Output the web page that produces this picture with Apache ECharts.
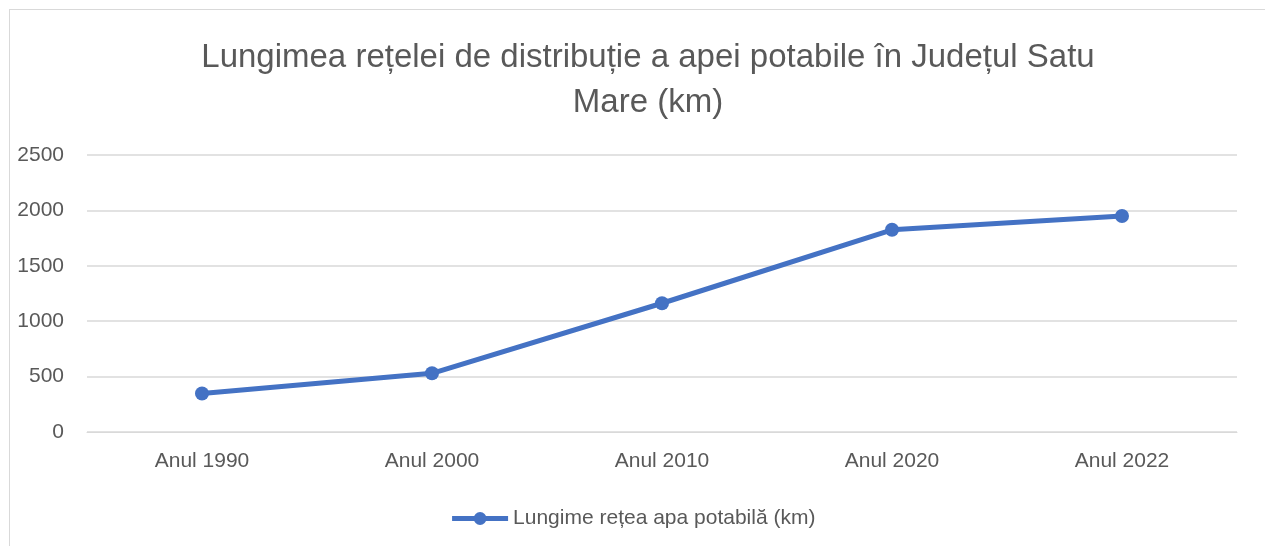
<!DOCTYPE html>
<html>
<head>
<meta charset="utf-8">
<script src="https://cdn.jsdelivr.net/npm/echarts@6/dist/echarts.min.js"></script>
<style>
  html, body { margin: 0; padding: 0; background: #fff; overflow: hidden; }
  #frame { position: absolute; left: 9px; top: 9px; width: 1300px; height: 600px; border: 1px solid #d9d9d9; box-sizing: border-box; }
  #main { position: absolute; left: 0; top: 0; width: 1265px; height: 546px; }
</style>
</head>
<body>
<div id="frame"></div>
<div id="main"></div>
<script>
// date
const categories = ['Anul 1990', 'Anul 2000', 'Anul 2010', 'Anul 2020', 'Anul 2022'];
const lungimeValues = [347, 530, 1162, 1825, 1950];
const seriesName = 'Lungime rețea apa potabilă (km)';
const titleText = 'Lungimea rețelei de distribuție a apei potabile în Județul Satu\nMare (km)';

const chart = echarts.init(document.getElementById('main'));
const font = '"Liberation Sans", "DejaVu Sans", sans-serif';

chart.setOption({
  animation: false,
  title: {
    text: titleText,
    left: 643,
    top: 30,
    textAlign: 'center',
    textStyle: { fontFamily: font, fontWeight: 'normal', fontSize: 33, color: '#595959', lineHeight: 45 }
  },
  legend: {
    bottom: 12,
    left: 'center',
    itemWidth: 56,
    itemHeight: 16,
    itemGap: 4,
    lineStyle: { width: 5 },
    textStyle: { fontFamily: font, fontSize: 21, color: '#595959' },
    data: [seriesName]
  },
  grid: { left: 87, right: 28, top: 155, bottom: 114 },
  xAxis: {
    type: 'category',
    data: categories,
    axisLine: { lineStyle: { color: '#d9d9d9', width: 1 } },
    axisTick: { show: false },
    axisLabel: { fontFamily: font, fontSize: 21, color: '#595959', margin: 19 }
  },
  yAxis: {
    type: 'value',
    min: 0,
    max: 2500,
    interval: 500,
    axisLine: { show: false },
    axisTick: { show: false },
    splitLine: { lineStyle: { color: '#d9d9d9', width: 1.5 } },
    axisLabel: { fontFamily: font, fontSize: 21, color: '#595959', margin: 23, formatter: v => String(v) }
  },
  series: [{
    name: seriesName,
    type: 'line',
    data: lungimeValues,
    symbol: 'circle',
    symbolSize: 14,
    lineStyle: { color: '#4472c4', width: 5 },
    itemStyle: { color: '#4472c4' }
  }]
});
</script>
</body>
</html>
